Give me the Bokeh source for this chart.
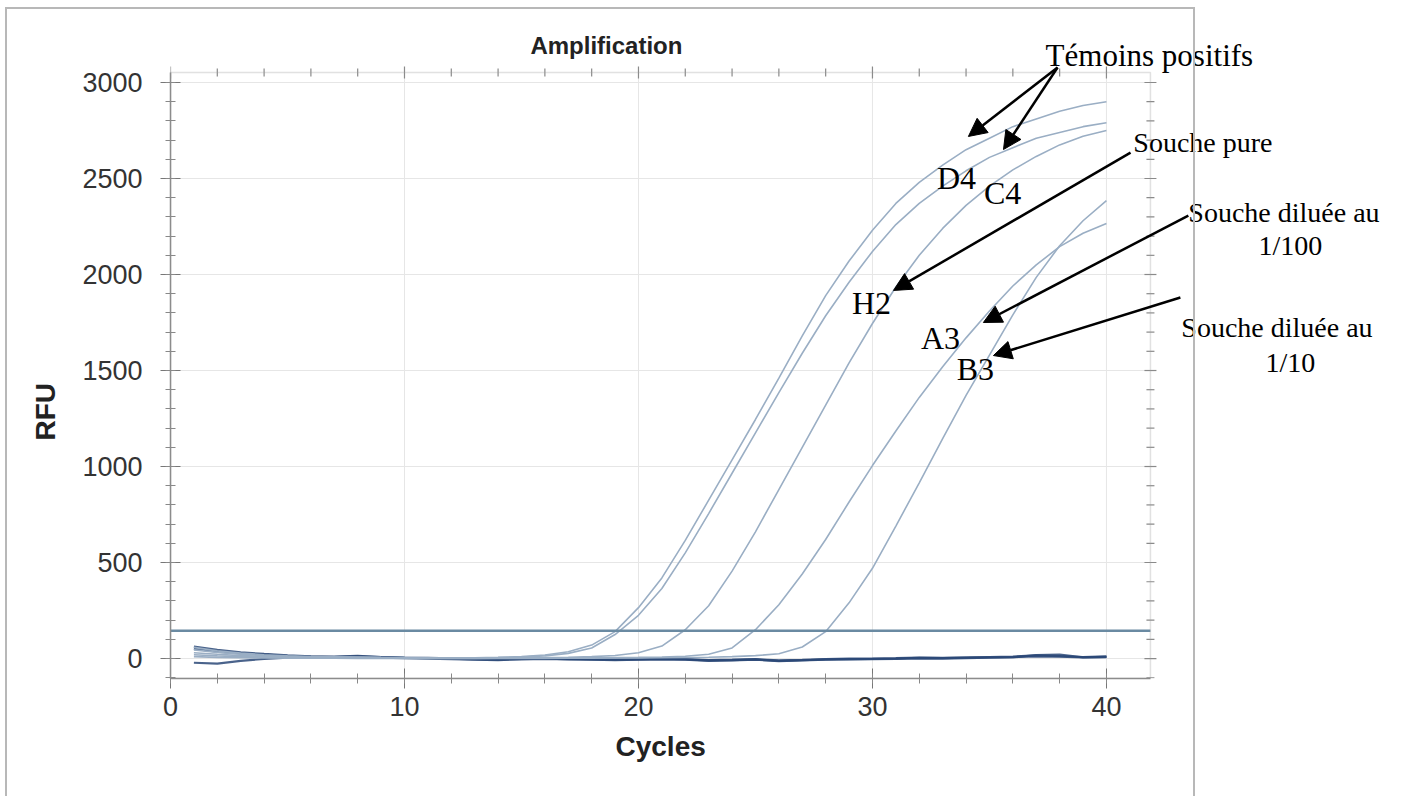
from bokeh.plotting import figure
from bokeh.models import (Range1d, Label, Arrow, NormalHead, BoxAnnotation, SingleIntervalTicker, Title)
from bokeh.embed import file_html
from bokeh.resources import INLINE

cycles = list(range(1, 41))

D4 = [58, 40, 28, 20, 14, 10, 9, 8, 6, 5, 4, 3, 4, 6, 10, 18, 35, 70, 140, 265,
      420, 615, 825, 1035, 1245, 1460, 1680, 1890, 2070, 2230, 2370, 2480, 2570, 2650, 2710,
      2770, 2810, 2850, 2880, 2900]
C4 = [45, 32, 22, 16, 11, 8, 8, 7, 5, 4, 3, 3, 3, 5, 8, 14, 27, 55, 125, 225,
      365, 550, 755, 965, 1175, 1385, 1590, 1785, 1960, 2120, 2260, 2370, 2460, 2540, 2610,
      2660, 2710, 2740, 2770, 2790]
H2 = [30, 22, 15, 11, 8, 6, 6, 5, 4, 3, 2, 2, 2, 3, 4, 5, 7, 10, 16, 30,
      65, 150, 275, 455, 660, 880, 1100, 1320, 1540, 1745, 1935, 2100, 2240, 2360, 2460,
      2545, 2615, 2675, 2720, 2750]
A3 = [20, 14, 10, 7, 5, 4, 4, 3, 2, 2, 1, 1, 1, 2, 2, 3, 3, 4, 5, 6,
      8, 12, 22, 55, 150, 280, 440, 620, 815, 1005, 1185, 1360, 1520, 1670, 1810,
      1940, 2050, 2145, 2215, 2266]
B3 = [10, 6, 4, 3, 2, 2, 2, 1, 1, 1, 0, 0, 0, 1, 1, 1, 2, 2, 3, 3,
      4, 5, 7, 10, 15, 25, 60, 140, 290, 470, 690, 915, 1145, 1370, 1580,
      1790, 1985, 2150, 2280, 2385]
NEG1 = [62, 45, 32, 24, 17, 12, 10, 14, 8, 5, 3, 1, -2, -4, 0, 2, -1, -3, -5, -3,
        -1, -3, -8, -6, -3, -10, -7, -3, -1, 0, 2, 5, 4, 6, 8, 10, 16, 13, 8, 11]
NEG2 = [50, 36, 27, 20, 14, 10, 7, 12, 7, 4, 2, -1, -4, -6, -2, 0, -3, -5, -6, -4,
        -2, -5, -10, -8, -5, -12, -9, -5, -3, -2, 0, 3, 2, 4, 6, 8, 11, 10, 6, 9]
NEG3 = [-22, -27, -12, -2, 4, 5, 4, 9, 5, 2, 0, -3, -6, -8, -4, -2, -4, -6, -8, -6,
        -4, -6, -12, -10, -6, -14, -10, -6, -4, -3, -2, 1, 0, 2, 4, 6, 18, 21, 6, 7]
THRESHOLD = 145

X_TICKS = [0, 10, 20, 30, 40]
Y_TICKS = [0, 500, 1000, 1500, 2000, 2500, 3000]

# plot box (axis extent) and the page extent beyond it, used for annotations
X_MIN, X_MAX = 0, 41.88
Y_MIN, Y_MAX = -104, 3052
PAGE_X_MAX, PAGE_Y_MAX = 53.55, 3427

p = figure(width=1423, height=796, x_range=Range1d(X_MIN, PAGE_X_MAX),
           y_range=Range1d(Y_MIN, PAGE_Y_MAX), title=None,
           output_backend="svg", toolbar_location=None,
           min_border_left=170, min_border_right=0, min_border_top=0, min_border_bottom=118)
p.background_fill_color = "white"
p.border_fill_color = "white"
p.outline_line_color = None

p.stylesheets = [":host { position: relative; } "
                 ":host::after { content: ''; position: absolute; left: 5px; top: 7px; "
                 "width: 1186px; height: 787px; border: 2px solid #b8b8b8; pointer-events: none; }"]

SANS = "Liberation Sans"
SERIF = "Liberation Serif"
for ax in [p.xaxis[0], p.yaxis[0]]:
    ax.axis_line_color = "#8a8a8a"
    ax.axis_line_width = 1.5
    ax.major_tick_line_color = "#777777"
    ax.minor_tick_line_color = "#888888"
    ax.major_tick_in = 10
    ax.major_tick_out = 10
    ax.minor_tick_in = 5
    ax.minor_tick_out = 5
    ax.major_label_text_font = SANS
    ax.major_label_text_font_size = "27px"
    ax.major_label_text_color = "#333333"
    ax.axis_label = None

p.xaxis[0].ticker = SingleIntervalTicker(interval=10, num_minor_ticks=5)
p.yaxis[0].ticker = SingleIntervalTicker(interval=500, num_minor_ticks=5)
p.xaxis[0].bounds = (X_MIN, X_MAX)
p.yaxis[0].bounds = (Y_MIN, Y_MAX)
p.xaxis[0].major_label_standoff = 8
p.yaxis[0].major_label_standoff = 18

# axis titles, positioned along the plot box rather than the whole frame
p.add_layout(Title(text="Cycles", align="left", offset=445, standoff=20,
                   text_font=SANS, text_font_style="bold", text_font_size="28px",
                   text_color="#222222"), "below")
p.add_layout(Title(text="RFU", align="left", offset=238, standoff=38,
                   text_font=SANS, text_font_style="bold", text_font_size="28px",
                   text_color="#222222"), "left")

# grid lines limited to the plot box
p.xgrid.visible = False
p.ygrid.visible = False
GRID = "#e6e6e6"
p.segment(x0=X_TICKS, y0=[Y_MIN] * len(X_TICKS), x1=X_TICKS, y1=[Y_MAX] * len(X_TICKS),
          line_color=GRID, line_width=1)
p.segment(x0=[X_MIN] * len(Y_TICKS), y0=Y_TICKS, x1=[X_MAX] * len(Y_TICKS), y1=Y_TICKS,
          line_color=GRID, line_width=1)

# plot box outline
p.add_layout(BoxAnnotation(left=X_MIN, right=X_MAX, bottom=Y_MIN, top=Y_MAX,
                           fill_color=None, line_color="#9a9a9a", line_width=1.5))

# small ticks on the top and right edges of the plot box
PX_X = (PAGE_X_MAX - X_MIN) / 1253.0
PX_Y = (PAGE_Y_MAX - Y_MIN) / 678.0
top_x = list(range(0, 41, 2))
top_len = [6 * PX_Y if v % 10 == 0 else 4 * PX_Y for v in top_x]
p.segment(x0=top_x, y0=[Y_MAX - l for l in top_len], x1=top_x, y1=[Y_MAX + l for l in top_len],
          line_color="#8a8a8a", line_width=1.2)
right_y = list(range(-100, 3001, 100))
right_len = [6 * PX_X if v % 500 == 0 else 4 * PX_X for v in right_y]
p.segment(x0=[X_MAX - l for l in right_len], y0=right_y, x1=[X_MAX + l for l in right_len], y1=right_y,
          line_color="#8a8a8a", line_width=1.2)

for s in [NEG1, NEG2, NEG3]:
    p.line(cycles, s, line_color="#2a4877", line_width=2.2, line_alpha=0.85)
for s in [D4, C4, H2, A3, B3]:
    p.line(cycles, s, line_color="#9aaec4", line_width=1.6)
p.line([X_MIN, X_MAX], [THRESHOLD, THRESHOLD], line_color="#6a8aa2", line_width=2.5)

p.add_layout(Label(x=18.63, y=3193, text="Amplification", text_align="center",
                   text_baseline="middle", text_font=SANS, text_font_style="bold",
                   text_font_size="24px", text_color="#222222"))

# (text, x, y, align, size)
labels = [
    ("Témoins positifs", 37.40, 3141, "left", "31px"),
    ("Souche pure", 41.15, 2688, "left", "28px"),
    ("Souche diluée au", 43.50, 2323, "left", "28px"),
    ("1/100", 47.86, 2151, "center", "28px"),
    ("Souche diluée au", 43.20, 1724, "left", "28px"),
    ("1/10", 47.86, 1542, "center", "28px"),
    ("D4", 33.59, 2500, "center", "32px"),
    ("C4", 35.56, 2422, "center", "32px"),
    ("H2", 29.96, 1849, "center", "32px"),
    ("A3", 32.91, 1667, "center", "32px"),
    ("B3", 34.40, 1510, "center", "32px"),
]
for t, x, y, al, sz in labels:
    p.add_layout(Label(x=x, y=y, text=t, text_align=al, text_baseline="middle",
                       text_font=SERIF, text_font_size=sz, text_color="black"))

arrows = [
    (37.91, 3078, 34.10, 2719),
    (37.91, 3078, 35.60, 2651),
    (41.03, 2635, 30.90, 1917),
    (43.50, 2307, 34.74, 1750),
    (43.16, 1880, 35.17, 1578),
]
for xs, ys, xe, ye in arrows:
    p.add_layout(Arrow(end=NormalHead(size=18, fill_color="black", line_color="black"),
                       x_start=xs, y_start=ys, x_end=xe, y_end=ye,
                       line_color="black", line_width=2.5))

open("out.html", "w").write(file_html(p, INLINE))
